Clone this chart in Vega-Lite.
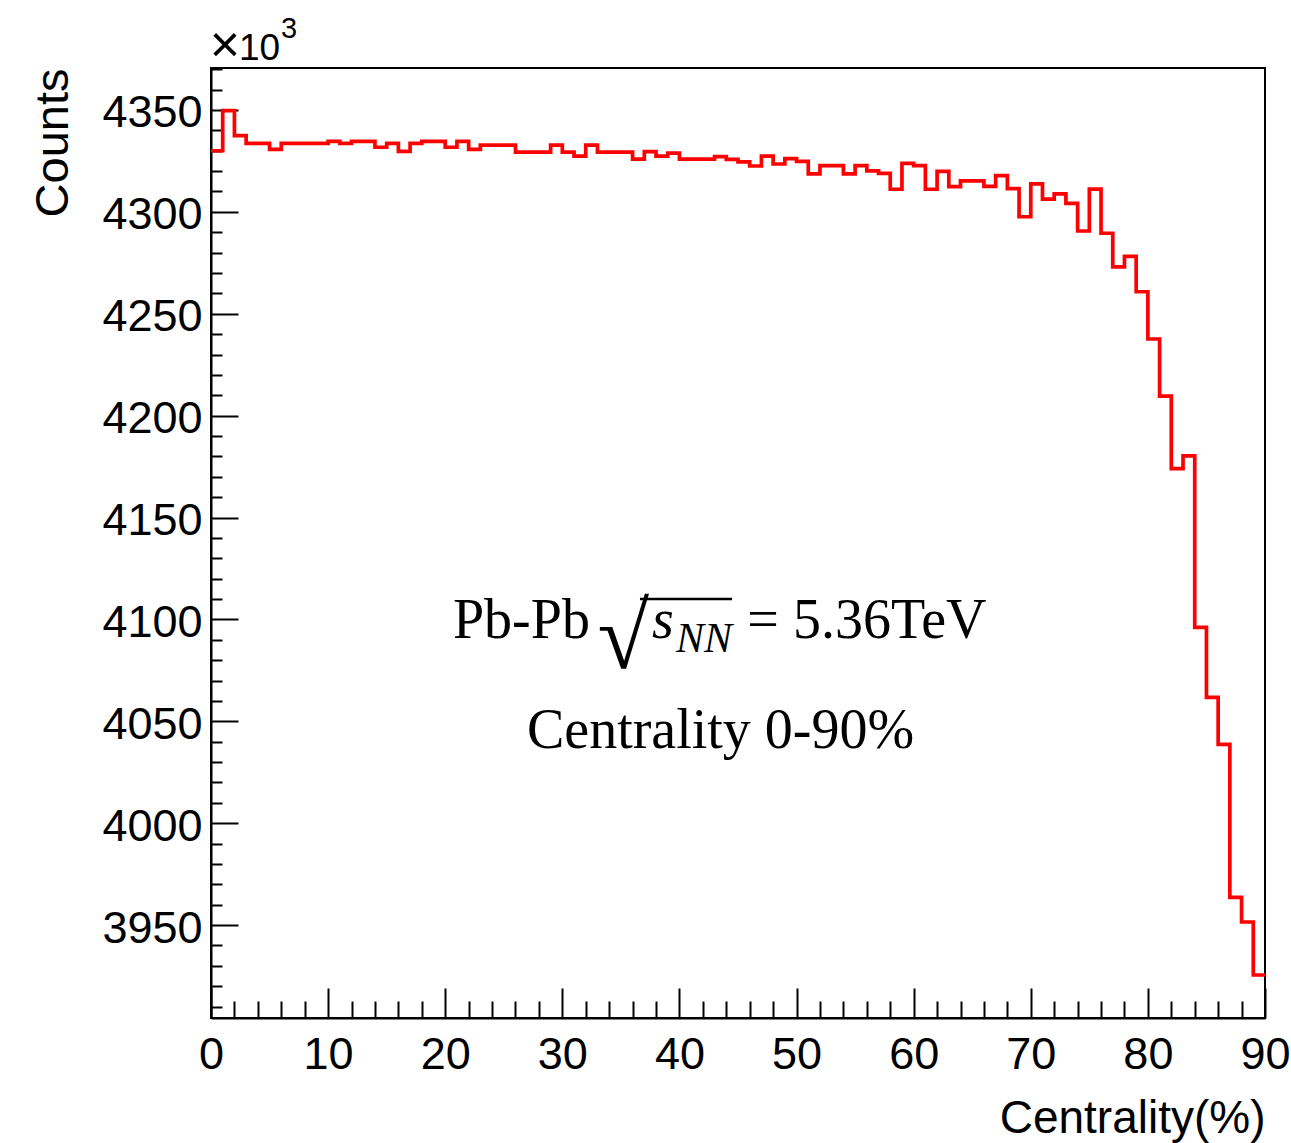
{
  "$schema": "https://vega.github.io/schema/vega-lite/v6.json",
  "width": 1054,
  "height": 950,
  "autosize": "none",
  "padding": {"left": 211, "top": 68, "right": 26, "bottom": 125},
  "background": "white",
  "config": {"view": {"stroke": "black", "strokeWidth": 2}, "font": "Liberation Sans"},
  "layer": [
    {
      "data": {"values": [
        {"c": 0, "v": 4330.0}, {"c": 1, "v": 4349.7}, {"c": 2, "v": 4337.4}, {"c": 3, "v": 4333.6}, {"c": 4, "v": 4333.6},
        {"c": 5, "v": 4330.7}, {"c": 6, "v": 4333.6}, {"c": 7, "v": 4333.6}, {"c": 8, "v": 4333.6}, {"c": 9, "v": 4333.6},
        {"c": 10, "v": 4334.6}, {"c": 11, "v": 4333.6}, {"c": 12, "v": 4334.6}, {"c": 13, "v": 4334.6}, {"c": 14, "v": 4331.7},
        {"c": 15, "v": 4333.6}, {"c": 16, "v": 4329.7}, {"c": 17, "v": 4333.6}, {"c": 18, "v": 4334.6}, {"c": 19, "v": 4334.6},
        {"c": 20, "v": 4331.7}, {"c": 21, "v": 4334.6}, {"c": 22, "v": 4330.7}, {"c": 23, "v": 4332.8}, {"c": 24, "v": 4332.8},
        {"c": 25, "v": 4332.8}, {"c": 26, "v": 4329.3}, {"c": 27, "v": 4329.3}, {"c": 28, "v": 4329.3}, {"c": 29, "v": 4332.8},
        {"c": 30, "v": 4329.3}, {"c": 31, "v": 4327.4}, {"c": 32, "v": 4332.8}, {"c": 33, "v": 4329.3}, {"c": 34, "v": 4329.3},
        {"c": 35, "v": 4329.3}, {"c": 36, "v": 4325.9}, {"c": 37, "v": 4329.6}, {"c": 38, "v": 4327.4}, {"c": 39, "v": 4328.8},
        {"c": 40, "v": 4325.9}, {"c": 41, "v": 4325.9}, {"c": 42, "v": 4325.9}, {"c": 43, "v": 4327.1}, {"c": 44, "v": 4325.8},
        {"c": 45, "v": 4324.5}, {"c": 46, "v": 4322.5}, {"c": 47, "v": 4327.4}, {"c": 48, "v": 4323.5}, {"c": 49, "v": 4326.1},
        {"c": 50, "v": 4324.8}, {"c": 51, "v": 4318.6}, {"c": 52, "v": 4322.7}, {"c": 53, "v": 4322.7}, {"c": 54, "v": 4318.6},
        {"c": 55, "v": 4322.7}, {"c": 56, "v": 4320.1}, {"c": 57, "v": 4318.9}, {"c": 58, "v": 4311.1}, {"c": 59, "v": 4323.8},
        {"c": 60, "v": 4322.7}, {"c": 61, "v": 4311.1}, {"c": 62, "v": 4319.9}, {"c": 63, "v": 4312.4}, {"c": 64, "v": 4315.2},
        {"c": 65, "v": 4315.2}, {"c": 66, "v": 4312.5}, {"c": 67, "v": 4317.8}, {"c": 68, "v": 4311.4}, {"c": 69, "v": 4297.6},
        {"c": 70, "v": 4313.7}, {"c": 71, "v": 4306.3}, {"c": 72, "v": 4308.8}, {"c": 73, "v": 4304.2}, {"c": 74, "v": 4290.6},
        {"c": 75, "v": 4311.2}, {"c": 76, "v": 4289.5}, {"c": 77, "v": 4273.0}, {"c": 78, "v": 4278.2}, {"c": 79, "v": 4260.8},
        {"c": 80, "v": 4237.6}, {"c": 81, "v": 4209.6}, {"c": 82, "v": 4174.0}, {"c": 83, "v": 4180.3}, {"c": 84, "v": 4096.1},
        {"c": 85, "v": 4061.7}, {"c": 86, "v": 4038.7}, {"c": 87, "v": 3963.6}, {"c": 88, "v": 3951.5}, {"c": 89, "v": 3925.5},
        {"c": 90, "v": 3925.5}
      ]},
      "mark": {"type": "line", "interpolate": "step-after", "color": "#ff0000", "strokeWidth": 3.7},
      "encoding": {
        "x": {
          "field": "c", "type": "quantitative",
          "scale": {"domain": [0, 90], "nice": false, "zero": false},
          "axis": {
            "title": "Centrality(%)", "titleFont": "Liberation Sans", "titleFontSize": 46, "titleFontWeight": "normal",
            "titleAnchor": "end", "titleColor": "black", "titlePadding": 6,
            "values": [0,2,4,6,8,10,12,14,16,18,20,22,24,26,28,30,32,34,36,38,40,42,44,46,48,50,52,54,56,58,60,62,64,66,68,70,72,74,76,78,80,82,84,86,88,90],
            "tickCount": 500,
            "format": "d",
            "labelExpr": "datum.value % 10 === 0 ? datum.label : ''",
            "labelFont": "Liberation Sans", "labelFontSize": 45, "labelColor": "black",
            "labelPadding": 44, "labelOverlap": false, "labelFlush": false, "labelBound": false,
            "tickSize": {"condition": {"test": "datum.value % 10 === 0", "value": -30}, "value": -17},
            "tickColor": "black", "tickWidth": 2, "domainColor": "black", "domainWidth": 2, "grid": false
          }
        },
        "y": {
          "field": "v", "type": "quantitative",
          "scale": {"domain": [3904.4, 4370.6], "nice": false, "zero": false},
          "axis": {
            "title": "Counts", "titleFont": "Liberation Sans", "titleFontSize": 47, "titleFontWeight": "normal",
            "titleAnchor": "end", "titleColor": "black", "titlePadding": 24,
            "values": [3910,3920,3930,3940,3950,3960,3970,3980,3990,4000,4010,4020,4030,4040,4050,4060,4070,4080,4090,4100,4110,4120,4130,4140,4150,4160,4170,4180,4190,4200,4210,4220,4230,4240,4250,4260,4270,4280,4290,4300,4310,4320,4330,4340,4350,4360,4370],
            "tickCount": 500,
            "format": "d",
            "labelExpr": "datum.value % 50 === 0 ? datum.label : ''",
            "labelFont": "Liberation Sans", "labelFontSize": 45, "labelColor": "black", "labelOffset": 3,
            "labelPadding": 36, "labelOverlap": false, "labelFlush": false, "labelBound": false,
            "tickSize": {"condition": {"test": "datum.value % 50 === 0", "value": -27}, "value": -11},
            "tickColor": "black", "tickWidth": 2, "domainColor": "black", "domainWidth": 2, "grid": false
          }
        }
      }
    },
    {
      "data": {"values": [{}]},
      "mark": {"type": "text", "text": "×", "font": "Liberation Sans", "fontSize": 52, "align": "left", "baseline": "alphabetic", "color": "black"},
      "encoding": {"x": {"datum": -0.1, "type": "quantitative"}, "y": {"datum": 4373.5, "type": "quantitative"}}
    },
    {
      "data": {"values": [{}]},
      "mark": {"type": "text", "text": "10", "font": "Liberation Sans", "fontSize": 37, "align": "left", "baseline": "alphabetic", "color": "black"},
      "encoding": {"x": {"datum": 2.39, "type": "quantitative"}, "y": {"datum": 4374.5, "type": "quantitative"}}
    },
    {
      "data": {"values": [{}]},
      "mark": {"type": "text", "text": "3", "font": "Liberation Sans", "fontSize": 29, "align": "left", "baseline": "alphabetic", "color": "black"},
      "encoding": {"x": {"datum": 5.98, "type": "quantitative"}, "y": {"datum": 4385.3, "type": "quantitative"}}
    },
    {
      "data": {"values": [{}]},
      "mark": {"type": "text", "text": "Pb-Pb", "font": "Liberation Serif", "fontSize": 56, "align": "left", "baseline": "alphabetic", "color": "black"},
      "encoding": {"x": {"datum": 20.66, "type": "quantitative"}, "y": {"datum": 4090.9, "type": "quantitative"}}
    },
    {
      "data": {"values": [{}]},
      "mark": {"type": "text", "text": "√", "font": "Liberation Serif", "fontSize": 94, "align": "left", "baseline": "alphabetic", "color": "black"},
      "encoding": {"x": {"datum": 33.0, "type": "quantitative"}, "y": {"datum": 4076.1, "type": "quantitative"}}
    },
    {
      "data": {"values": [{}]},
      "mark": {"type": "rule", "color": "black", "strokeWidth": 2.5},
      "encoding": {"x": {"datum": 36.63, "type": "quantitative"}, "x2": {"datum": 44.49}, "y": {"datum": 4110.0, "type": "quantitative"}}
    },
    {
      "data": {"values": [{}]},
      "mark": {"type": "text", "text": "s", "font": "Liberation Serif", "fontSize": 56, "fontStyle": "italic", "align": "left", "baseline": "alphabetic", "color": "black"},
      "encoding": {"x": {"datum": 37.66, "type": "quantitative"}, "y": {"datum": 4090.9, "type": "quantitative"}}
    },
    {
      "data": {"values": [{}]},
      "mark": {"type": "text", "text": "NN", "font": "Liberation Serif", "fontSize": 42, "fontStyle": "italic", "align": "left", "baseline": "alphabetic", "color": "black"},
      "encoding": {"x": {"datum": 39.7, "type": "quantitative"}, "y": {"datum": 4084.0, "type": "quantitative"}}
    },
    {
      "data": {"values": [{}]},
      "mark": {"type": "text", "text": "= 5.36TeV", "font": "Liberation Serif", "fontSize": 56, "align": "left", "baseline": "alphabetic", "color": "black"},
      "encoding": {"x": {"datum": 45.8, "type": "quantitative"}, "y": {"datum": 4090.9, "type": "quantitative"}}
    },
    {
      "data": {"values": [{}]},
      "mark": {"type": "text", "text": "Centrality 0-90%", "font": "Liberation Serif", "fontSize": 56, "align": "center", "baseline": "alphabetic", "color": "black"},
      "encoding": {"x": {"datum": 43.51, "type": "quantitative"}, "y": {"datum": 4036.9, "type": "quantitative"}}
    }
  ]
}
